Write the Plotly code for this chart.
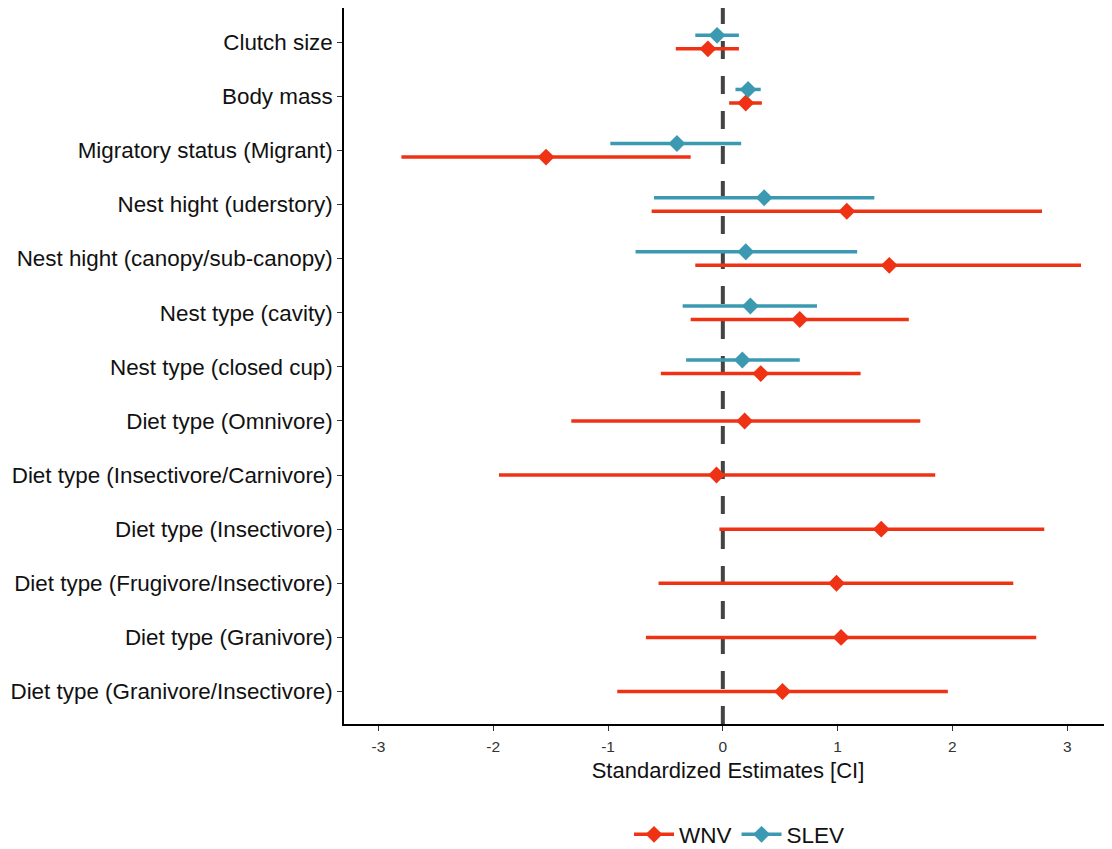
import plotly.graph_objects as go

categories = [
    "Clutch size",
    "Body mass",
    "Migratory status (Migrant)",
    "Nest hight (uderstory)",
    "Nest hight (canopy/sub-canopy)",
    "Nest type (cavity)",
    "Nest type (closed cup)",
    "Diet type (Omnivore)",
    "Diet type (Insectivore/Carnivore)",
    "Diet type (Insectivore)",
    "Diet type (Frugivore/Insectivore)",
    "Diet type (Granivore)",
    "Diet type (Granivore/Insectivore)",
]

wnv_est = [-0.13, 0.20, -1.54, 1.08, 1.45, 0.67, 0.33, 0.19, -0.055, 1.38, 0.99, 1.03, 0.52]
wnv_lo = [-0.41, 0.055, -2.80, -0.62, -0.24, -0.28, -0.54, -1.32, -1.95, -0.03, -0.56, -0.67, -0.92]
wnv_hi = [0.14, 0.34, -0.28, 2.78, 3.12, 1.62, 1.20, 1.72, 1.85, 2.80, 2.53, 2.73, 1.96]

slev_est = [-0.05, 0.22, -0.40, 0.36, 0.20, 0.24, 0.17, None, None, None, None, None, None]
slev_lo = [-0.24, 0.11, -0.98, -0.60, -0.76, -0.35, -0.32, None, None, None, None, None, None]
slev_hi = [0.14, 0.33, 0.16, 1.32, 1.17, 0.82, 0.67, None, None, None, None, None, None]

x_ticks = [-3, -2, -1, 0, 1, 2, 3]

WNV_COL = "#F03214"
SLEV_COL = "#3B9AB2"
FONT = "Liberation Sans, Arial, sans-serif"
DODGE = 0.125

pos = list(range(1, len(categories) + 1))

# dodge positions (only dodge rows that contain both models)
wnv_y, slev_y = [], []
for i, p in enumerate(pos):
    has_slev = slev_est[i] is not None
    wnv_y.append(p + DODGE if has_slev else p)
    slev_y.append(p - DODGE if has_slev else None)

fig = go.Figure()

# reference line at zero
fig.add_shape(type="line", x0=0, x1=0, xref="x", y0=0, y1=1, yref="paper",
              line=dict(color="#444444", width=4, dash="18px,17px"), layer="below")


def add_series(name, est, lo, hi, ys, color):
    xs, yy = [], []
    for e, l, h, y in zip(est, lo, hi, ys):
        if e is None:
            continue
        xs += [l, h, None]
        yy += [y, y, None]
    fig.add_trace(go.Scatter(x=xs, y=yy, mode="lines", line=dict(color=color, width=3.5),
                             showlegend=False, hoverinfo="skip"))
    px = [e for e in est if e is not None]
    py = [y for e, y in zip(est, ys) if e is not None]
    fig.add_trace(go.Scatter(x=px, y=py, mode="markers",
                             marker=dict(symbol="diamond", size=13, color=color),
                             showlegend=False, name=name))
    fig.add_trace(go.Scatter(x=[None], y=[None], mode="lines+markers", name=name,
                             line=dict(color=color, width=3.5),
                             marker=dict(symbol="diamond", size=13, color=color)))


add_series("WNV", wnv_est, wnv_lo, wnv_hi, wnv_y, WNV_COL)
add_series("SLEV", slev_est, slev_lo, slev_hi, slev_y, SLEV_COL)

fig.update_layout(
    width=1104, height=841,
    margin=dict(l=336, r=0, t=0, b=125),
    paper_bgcolor="white", plot_bgcolor="white",
    font=dict(family=FONT, color="#111111"),
    showlegend=True,
    legend=dict(orientation="h", x=0.515, xanchor="center",
                yref="container", y=0.017, yanchor="middle",
                font=dict(size=22.5, color="#111111"), itemwidth=40, tracegroupgap=0,
                itemclick=False),
    xaxis=dict(range=[-3.30, 3.39], tickvals=x_ticks, ticktext=[str(t) for t in x_ticks],
               showgrid=False, zeroline=False, showline=True, linecolor="black", linewidth=1.5,
               ticks="outside", ticklen=5, tickcolor="#333333", tickwidth=1.2,
               ticklabelstandoff=3,
               tickfont=dict(size=15.5, color="#333333"),
               title=dict(text="Standardized Estimates [CI]", font=dict(size=22, color="#111111"),
                          standoff=8)),
    yaxis=dict(range=[13.6, 0.37], tickvals=pos, ticktext=categories,
               showgrid=False, zeroline=False, showline=True, linecolor="black", linewidth=1.5,
               ticks="outside", ticklen=5, tickcolor="#333333", tickwidth=1.2,
               tickfont=dict(size=22.4, color="#111111")),
)

fig.write_html("out.html")
